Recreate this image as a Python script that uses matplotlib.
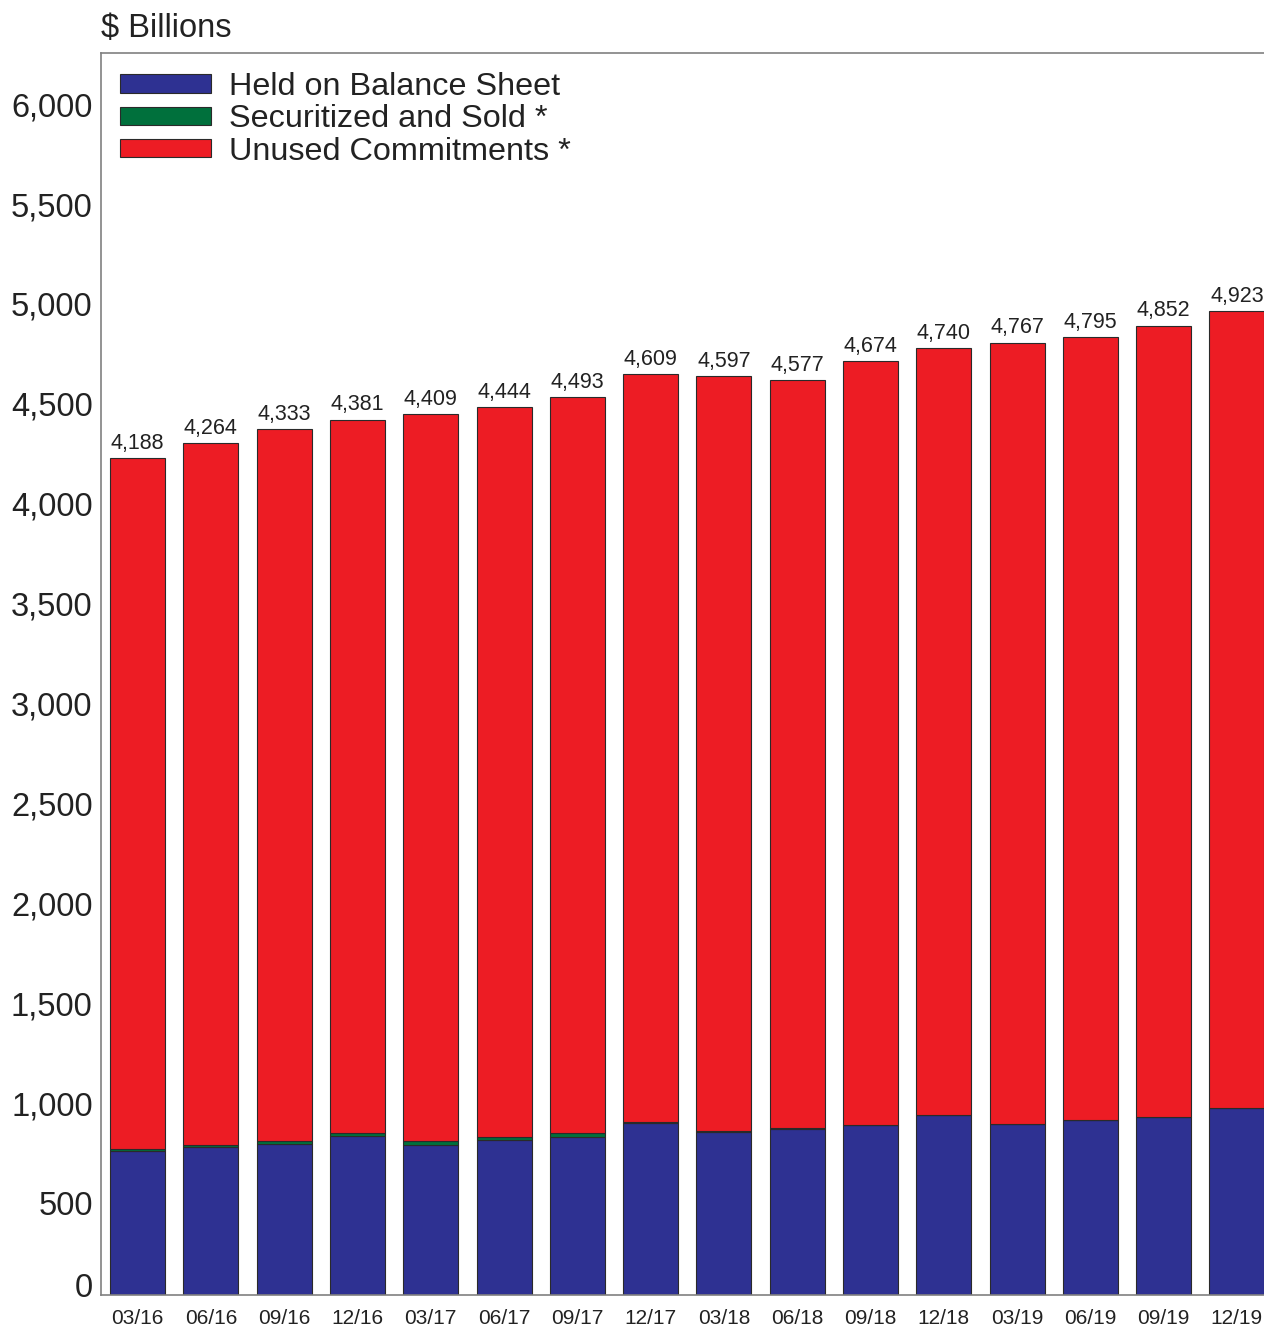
import matplotlib
matplotlib.use("Agg")
import matplotlib.pyplot as plt
from matplotlib.patches import Patch
from matplotlib.transforms import ScaledTranslation
import numpy as np

quarters = ['03/16', '06/16', '09/16', '12/16', '03/17', '06/17', '09/17', '12/17',
            '03/18', '06/18', '09/18', '12/18', '03/19', '06/19', '09/19', '12/19']
held = [721, 741, 756, 796, 751, 776, 791, 861, 816, 831, 851, 901, 856, 876, 891, 936]
securitized = [10, 10, 15, 15, 18, 15, 20, 3, 3, 3, 2, 2, 2, 2, 2, 2]
unused = [3457, 3513, 3562, 3570, 3640, 3653, 3682, 3745, 3778, 3743, 3821, 3837, 3909, 3917, 3959, 3985]
totals = [4188, 4264, 4333, 4381, 4409, 4444, 4493, 4609, 4597, 4577, 4674, 4740, 4767, 4795, 4852, 4923]
yticks = [0, 500, 1000, 1500, 2000, 2500, 3000, 3500, 4000, 4500, 5000, 5500, 6000]

BLUE = '#2E3192'
GREEN = '#00703C'
RED = '#ED1C24'
EDGE = '#2a2a2a'
TXT = '#222222'

plt.rcParams['font.family'] = ['Liberation Sans', 'DejaVu Sans']

W, H = 1264, 1329
fig = plt.figure(figsize=(W / 100, H / 100), dpi=100)
ax = fig.add_axes([101 / W, 1 - 1295 / H, (W - 101) / W, (1295 - 53) / H])

x = np.arange(len(quarters))
held_a = np.array(held)
sec_a = np.array(securitized)
un_a = np.array(unused)
bw = 0.75
kw = dict(width=bw, edgecolor=EDGE, linewidth=0.8)
ax.bar(x, held_a, color=BLUE, **kw)
ax.bar(x, sec_a, bottom=held_a, color=GREEN, **kw)
ax.bar(x, un_a, bottom=held_a + sec_a, color=RED, **kw)

tops = held_a + sec_a + un_a
for xi, t, lab in zip(x, tops, totals):
    ax.annotate(f'{lab:,}', (xi, t), xytext=(0, 3), textcoords='offset points',
                ha='center', va='bottom', fontsize=15.5, color=TXT)

ax.set_xlim(-0.5, 15.37)
ax.set_ylim(0, 6216)
ax.set_xticks(x)
ax.set_xticklabels(quarters, fontsize=15, color=TXT)
ax.set_yticks(yticks)
ax.set_yticklabels([f'{v:,}' for v in yticks], fontsize=23.5, color=TXT)
ax.tick_params(axis='both', length=0)
ax.tick_params(axis='x', pad=10)
ax.tick_params(axis='y', pad=6)

for lbl, v in zip(ax.get_yticklabels(), yticks):
    dy = 10 if v == 0 else -8
    lbl.set_transform(lbl.get_transform() + ScaledTranslation(0, dy / 100, fig.dpi_scale_trans))

for s in ['left', 'top', 'bottom']:
    ax.spines[s].set_color('#808080')
    ax.spines[s].set_linewidth(1.2)
ax.spines['right'].set_visible(False)

fig.text(101 / W, 1 - 29 / H, '$ Billions', fontsize=23.5, ha='left', va='center', color=TXT)

handles = [Patch(facecolor=BLUE, edgecolor=EDGE, linewidth=0.8),
           Patch(facecolor=GREEN, edgecolor=EDGE, linewidth=0.8),
           Patch(facecolor=RED, edgecolor=EDGE, linewidth=0.8)]
labels = ['Held on Balance Sheet', 'Securitized and Sold *', 'Unused Commitments *']
fig.legend(handles, labels, loc='upper left', bbox_to_anchor=(120 / W, 1 - 72 / H),
           frameon=False, fontsize=23.3, handlelength=2.8, handleheight=0.5,
           handletextpad=0.56, labelspacing=0.07, borderpad=0, borderaxespad=0,
           labelcolor=TXT)

fig.savefig('out.png', dpi=100)
